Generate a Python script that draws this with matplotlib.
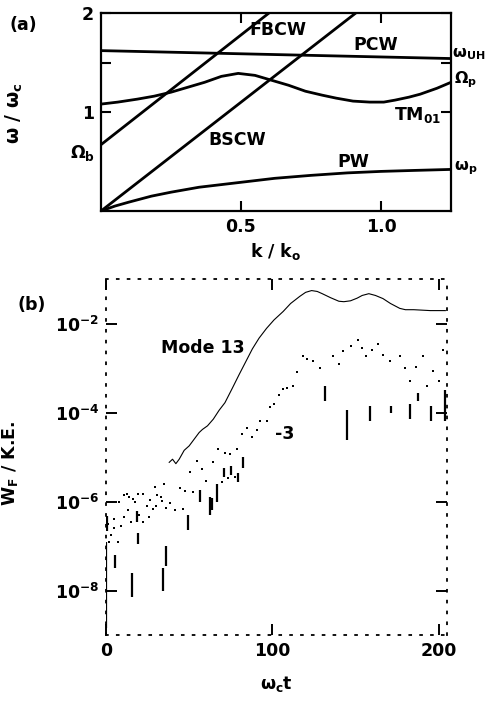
import numpy as np
import matplotlib
matplotlib.use("Agg")
import matplotlib.pyplot as plt

plt.rcParams['font.family'] = ['DejaVu Sans']
plt.rcParams['mathtext.fontset'] = 'dejavusans'
plt.rcParams['font.weight'] = 'bold'
plt.rcParams['axes.labelweight'] = 'bold'

# ---------------- (a) dispersion diagram ----------------
k_pcw = [0.0, 1.25]
w_pcw = [1.62, 1.54]

k_tm = [0.0, 0.06, 0.13, 0.19, 0.25, 0.31, 0.37, 0.43, 0.49, 0.55, 0.61, 0.67, 0.73,
        0.79, 0.84, 0.90, 0.96, 1.01, 1.05, 1.10, 1.14, 1.20, 1.25]
w_tm = [1.08, 1.10, 1.13, 1.16, 1.20, 1.25, 1.30, 1.36, 1.39, 1.37, 1.32, 1.27, 1.21,
        1.17, 1.14, 1.11, 1.10, 1.10, 1.12, 1.15, 1.18, 1.24, 1.30]

k_fbcw = [0.0, 0.60]
w_fbcw = [0.67, 2.0]

k_bscw = [0.0, 0.91]
w_bscw = [0.0, 2.0]

k_pw = [0.0, 0.05, 0.10, 0.18, 0.25, 0.35, 0.50, 0.62, 0.75, 0.88, 1.0, 1.12, 1.25]
w_pw = [0.0, 0.05, 0.09, 0.15, 0.19, 0.24, 0.29, 0.33, 0.36, 0.385, 0.40, 0.41, 0.42]

# ---------------- (b) field energy vs time ----------------
t13 = [38, 40, 42, 44, 47, 50, 53, 56, 58, 61, 64.5, 68, 71.5, 76, 80, 84, 88, 92, 96.5,
       101, 106.5, 111, 116.5, 120, 123.6, 127, 130, 135, 140, 143, 147, 151, 154, 158,
       162, 166.5, 171, 176.6, 180, 185, 190, 195, 200, 204]
e13 = [-5.12, -5.05, -5.15, -5.05, -4.85, -4.75, -4.60, -4.45, -4.38, -4.30, -4.15,
       -3.95, -3.78, -3.45, -3.15, -2.86, -2.57, -2.33, -2.11, -1.92, -1.73, -1.55,
       -1.39, -1.30, -1.26, -1.28, -1.33, -1.42, -1.50, -1.51, -1.49, -1.43, -1.37,
       -1.33, -1.37, -1.44, -1.55, -1.66, -1.69, -1.69, -1.70, -1.71, -1.71, -1.71]

t13_early = [2, 5, 8, 11, 12.6, 14, 16.2, 19.2, 22.2, 26.4, 29.4, 30.6, 33, 35]
e13_early = [-6.9, -6.4, -6.0, -5.85, -5.83, -5.9, -5.94, -5.83, -5.83, -5.97, -5.67,
             -5.85, -5.9, -5.6]

t3 = [1, 3, 5, 7, 9, 11, 13, 15, 17.4, 20, 22, 24.6, 26, 28.2, 30, 33.6, 36, 38.4, 41.4,
      44.5, 46.2, 47.4, 50.5, 52.3, 54.6, 57.6, 60, 64.3, 67.3, 69.7, 71.5, 73.3, 74.5,
      77.5, 78.7, 81.7, 85, 87.7, 90.7, 92.5, 96.5, 98.5, 101, 104, 106.5, 109, 112.5,
      115, 118.5, 121, 124.6, 128.6, 131.6, 136.6, 140, 142.6, 147, 151.6, 154, 156.6,
      160, 163.6, 166.5, 171, 176.6, 179.6, 183, 186.5, 190.6, 193, 196.6, 200, 202.6]
e3 = [-6.5, -6.75, -6.6, -6.9, -6.55, -6.35, -6.2, -6.45, -6.0, -6.3, -6.45, -6.11,
      -6.35, -6.16, -6.1, -5.98, -6.15, -6.04, -6.2, -5.7, -6.16, -5.76, -5.33, -5.78,
      -5.1, -5.26, -5.55, -5.12, -4.83, -5.57, -4.9, -5.48, -4.93, -5.46, -4.83, -4.49,
      -4.34, -4.56, -4.4, -4.2, -4.2, -3.87, -3.8, -3.6, -3.48, -3.45, -3.4, -3.1,
      -2.74, -2.8, -2.85, -3.0, -3.52, -2.72, -2.9, -2.61, -2.5, -2.38, -2.55, -2.74,
      -2.6, -2.45, -2.7, -2.85, -2.74, -3.0, -3.3, -2.98, -2.74, -3.4, -3.07, -3.3, -2.6]

spike_t = [0, 0.8, 5.4, 15.6, 18.6, 19.2, 34.2, 36, 49.2, 56.5, 62.4, 63.7, 66.7, 71,
           75, 79.3, 82.3, 131.6, 144.6, 158.5, 171.5, 182.6, 187.7, 195.6, 203.6]
spike_hi = [-6.9, -6.33, -7.2, -7.6, -6.22, -6.7, -7.5, -7.0, -6.3, -5.75, -5.9, -5.93,
            -5.6, -5.25, -5.2, -5.35, -4.99, -3.4, -3.94, -3.85, -3.85, -3.8, -3.56,
            -3.85, -3.5]
spike_lo = [-8.85, -6.66, -7.5, -8.15, -6.45, -6.95, -8.0, -7.45, -6.65, -6.0, -6.3,
            -6.2, -6.0, -5.45, -5.4, -5.57, -5.24, -3.75, -4.61, -4.2, -4.0, -4.15,
            -3.74, -4.2, -4.2]

W, H = 489, 701
fig = plt.figure(figsize=(W / 100, H / 100), dpi=100)

def fx(px):
    return px / W

def fy(py):
    return 1 - py / H

# ---- panel (a)
ax = fig.add_axes([fx(101), fy(211), fx(451) - fx(101), fy(13) - fy(211)])
lw = 2.0
for k, w in [(k_pcw, w_pcw), (k_tm, w_tm), (k_fbcw, w_fbcw), (k_bscw, w_bscw), (k_pw, w_pw)]:
    ax.plot(k, w, color='black', lw=lw, solid_capstyle='butt')
ax.set_xlim(0, 1.25)
ax.set_ylim(0, 2)
ax.set_xticks([0.5, 1.0])
ax.set_xticklabels(['0.5', '1.0'])
ax.set_yticks([1, 1.5, 2])
ax.set_yticklabels(['1', '', '2'])
ax.tick_params(direction='in', length=7, width=1.5, top=True, right=True,
               labelsize=12.5, pad=5)
for s in ax.spines.values():
    s.set_linewidth(1.6)

fs = 12.5
fr = 11.5
ax.text(0.63, 1.83, 'FBCW', fontsize=fs, ha='center', va='center')
ax.text(0.98, 1.68, 'PCW', fontsize=fs, ha='center', va='center')
ax.text(0.486, 0.72, 'BSCW', fontsize=fs, ha='center', va='center')
ax.text(1.13, 0.97, r'TM$_{\mathbf{01}}$', fontsize=fs, ha='center', va='center')
ax.text(0.90, 0.49, 'PW', fontsize=fs, ha='center', va='center')
ax.text(1.255, 1.585, r'ω$_{\mathbf{UH}}$', fontsize=fr, ha='left', va='center',
        clip_on=False)
ax.text(1.26, 1.33, r'Ω$_{\mathbf{p}}$', fontsize=fr, ha='left', va='center',
        clip_on=False)
ax.text(1.26, 0.43, r'ω$_{\mathbf{p}}$', fontsize=fr, ha='left', va='center',
        clip_on=False)
ax.text(-0.02, 0.59, r'Ω$_{\mathbf{b}}$', fontsize=fs, ha='right', va='center',
        clip_on=False)
ax.set_xlabel(r'k / k$_{\mathbf{o}}$', fontsize=fs, labelpad=4)
ax.set_ylabel(r'ω / ω$_{\mathbf{c}}$', fontsize=fs + 1)
ax.yaxis.set_label_coords((25 - 101) / 350, (211 - 113) / 198)
fig.text(fx(23), fy(25), '(a)', fontsize=fs, ha='center', va='center')

# ---- panel (b)
bx = fig.add_axes([fx(106), fy(635), fx(447) - fx(106), fy(279) - fy(635)])
bx.set_yscale('log')
bx.plot(t13, 10.0 ** np.array(e13), color='black', lw=0.8)
bx.plot(t13_early, 10.0 ** np.array(e13_early), ls='none', marker='s', ms=1.6,
        color='black', mew=0)
bx.plot(t3, 10.0 ** np.array(e3), ls='none', marker='s', ms=2.0, color='black', mew=0)
bx.vlines(spike_t, 10.0 ** np.array(spike_lo), 10.0 ** np.array(spike_hi),
          color='black', lw=1.6)
bx.set_xlim(0, 205)
bx.set_ylim(1e-9, 1e-1)
bx.set_xticks([0, 100, 200])
bx.set_xticklabels(['0', '100', '200'])
bx.set_yticks([1e-2, 1e-4, 1e-6, 1e-8])
bx.set_yticklabels([r'$\mathbf{10^{-2}}$', r'$\mathbf{10^{-4}}$',
                    r'$\mathbf{10^{-6}}$', r'$\mathbf{10^{-8}}$'])
bx.yaxis.set_minor_locator(matplotlib.ticker.NullLocator())
bx.tick_params(direction='in', length=8, width=1.4, top=True, right=True,
               labelsize=12.5, pad=5)
for s in bx.spines.values():
    s.set_linewidth(1.3)
    s.set_linestyle((0, (1, 5)))
bx.text(58, 10 ** -2.56, 'Mode 13', fontsize=fs, ha='center', va='center')
bx.text(107.5, 10 ** -4.49, '-3', fontsize=fs, ha='center', va='center')
bx.set_xlabel(r'ω$_{\mathbf{c}}$t', fontsize=fs, labelpad=10)
bx.set_ylabel(r'W$_{\mathbf{F}}$ / K.E.', fontsize=fs)
bx.yaxis.set_label_coords((20 - 106) / 341, (635 - 463) / 356)
fig.text(fx(32), fy(305), '(b)', fontsize=fs, ha='center', va='center')

fig.savefig('out.png', dpi=100)
